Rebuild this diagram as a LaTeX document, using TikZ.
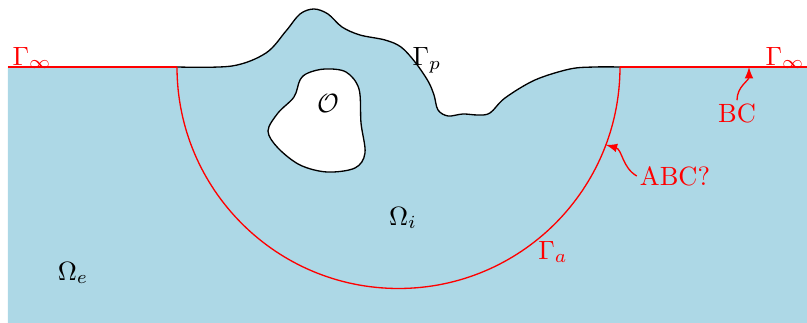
\documentclass[tikz,border=0pt]{standalone}
\usetikzlibrary{arrows,calc}
\definecolor{seablue}{RGB}{173,216,230}

\begin{document}
\begin{tikzpicture}[
    x=0.0133cm, y=0.0133cm,
    every node/.style={inner sep=1pt},
    bdry/.style={draw=black, line width=0.5pt},
    redline/.style={draw=red, line width=0.5pt},
    redlabel/.style={text=red},
    pointer/.style={red, line width=0.5pt, -latex}
]
\useasboundingbox (0,0) rectangle (807,323);

% the sea and the perturbed bottom
\fill[seablue] (8,256) -- (177,256)
    -- plot[smooth, tension=0.55] coordinates {(177,256) (232,257) (266,270) (286,292) (300,309) (314,314) (328,309) (342,296) (360,288) (385,283) (401,276) (415,261) (428,242) (434,228) (438,213) (448,207) (463,209) (478,208) (490,210) (505,225) (535,243) (570,254) (595,256) (620,256)}
    -- (807,256) -- (807,0) -- (8,0) -- cycle;
\draw[bdry] plot[smooth, tension=0.55] coordinates {(177,256) (232,257) (266,270) (286,292) (300,309) (314,314) (328,309) (342,296) (360,288) (385,283) (401,276) (415,261) (428,242) (434,228) (438,213) (448,207) (463,209) (478,208) (490,210) (505,225) (535,243) (570,254) (595,256) (620,256)};

% obstacle
\filldraw[bdry, fill=white] plot[smooth cycle, tension=0.55] coordinates {(300,243) (294,226) (278,210) (268,192) (278,175) (300,158) (327,151) (355,155) (365,170) (361,200) (359,234) (346,251) (325,254) (308,250)};

% artificial boundaries
\draw[redline] (8,256) -- (177,256);
\draw[redline] (620,256) -- (807,256);
\coordinate (ctr) at (398.5,256);
\draw[redline] (177,256) arc[start angle=180, end angle=360, radius=221.5];

\node[redlabel] (ginfl) at (32,265) {$\Gamma_\infty$};
\node[redlabel] (ginfr) at (785,265) {$\Gamma_\infty$};
\node (gp) at (427,263) {$\Gamma_p$};
\node (obst) at (328,220) {$\mathcal{O}$};
\node (omi) at (403,105) {$\Omega_i$};
\node (ome) at (73,50) {$\Omega_e$};
\node[redlabel] (ga) at (553,71) {$\Gamma_a$};
\node[redlabel] (bc) at (737,210) {BC};
\node[redlabel] (abc) at (675,147) {ABC?};

\coordinate (bctip) at (749,256);
\coordinate (abctip) at ($(ctr)+(-20.6:221.5)$);
\draw[pointer] (bc.north) to[out=90, in=-90] (bctip);
\draw[pointer] (abc.west) to[out=150, in=-15] (abctip);

\end{tikzpicture}
\end{document}
